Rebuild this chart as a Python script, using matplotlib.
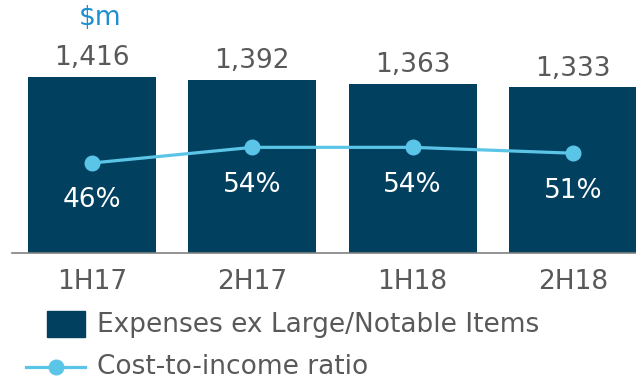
import matplotlib
matplotlib.use("Agg")
import matplotlib.pyplot as plt
from matplotlib.patches import Rectangle
from matplotlib.lines import Line2D

periods = ["1H17", "2H17", "1H18", "2H18"]
expenses = [1416, 1392, 1363, 1333]
ratio = [46, 54, 54, 51]
expense_labels = ["1,416", "1,392", "1,363", "1,333"]
ratio_labels = ["46%", "54%", "54%", "51%"]

BAR = "#02405F"
LINE = "#5BC5E8"
GRAY = "#595959"
BLUE = "#1B8FD0"
FS = 19

W, H = 636, 385
fig = plt.figure(figsize=(W / 100, H / 100), dpi=100)
plt.rcParams['font.family'] = ['DejaVu Sans']

# axes spanning x 12..636 px, y 0..253 px (from top)
ax = fig.add_axes([12 / W, (H - 253) / H, (636 - 12) / W, 253 / H])
x = list(range(len(periods)))
ax.bar(x, expenses, width=0.8, color=BAR, zorder=2)
ax.set_xlim(-0.5, 3.394)
ax.set_ylim(0, 2035)
for s in ["top", "right", "left"]:
    ax.spines[s].set_visible(False)
ax.spines["bottom"].set_color("#808080")
ax.spines["bottom"].set_linewidth(1.2)
ax.set_yticks([])
ax.set_xticks(x)
ax.set_xticklabels(periods, fontsize=FS, color=GRAY)
ax.tick_params(axis="x", length=0, pad=11.5)

for xi, v, lab in zip(x, expenses, expense_labels):
    ax.annotate(lab, (xi, v), xytext=(0, 13.5), textcoords="offset points",
                ha="center", va="center", fontsize=FS, color=GRAY)

ax2 = ax.twinx()
ax2.set_ylim(0, 129.3)
ax2.axis("off")
ax2.plot(x, ratio, color=LINE, lw=2.3, marker="o", markersize=10.5, zorder=3)
for xi, v, lab in zip(x, ratio, ratio_labels):
    ax2.annotate(lab, (xi, v), xytext=(0, -27), textcoords="offset points",
                 ha="center", va="center", fontsize=FS, color="white")

fig.text(100 / W, 1 - 18 / H, "$m", ha="center", va="center", fontsize=FS, color=BLUE)

# legend
fig.add_artist(Rectangle((47 / W, 1 - 337 / H), 38 / W, 26 / H,
                         transform=fig.transFigure, color=BAR))
fig.text(97 / W, 1 - 325 / H, "Expenses ex Large/Notable Items", ha="left",
         va="center", fontsize=FS, color=GRAY)
fig.add_artist(Line2D([26 / W, 85 / W], [1 - 367 / H, 1 - 367 / H],
                      transform=fig.transFigure, color=LINE, lw=2.3))
fig.add_artist(Line2D([56 / W], [1 - 367 / H], transform=fig.transFigure,
                      color=LINE, marker="o", markersize=10.5))
fig.text(97 / W, 1 - 367 / H, "Cost-to-income ratio", ha="left",
         va="center", fontsize=FS, color=GRAY)

fig.savefig("out.png", dpi=100)
